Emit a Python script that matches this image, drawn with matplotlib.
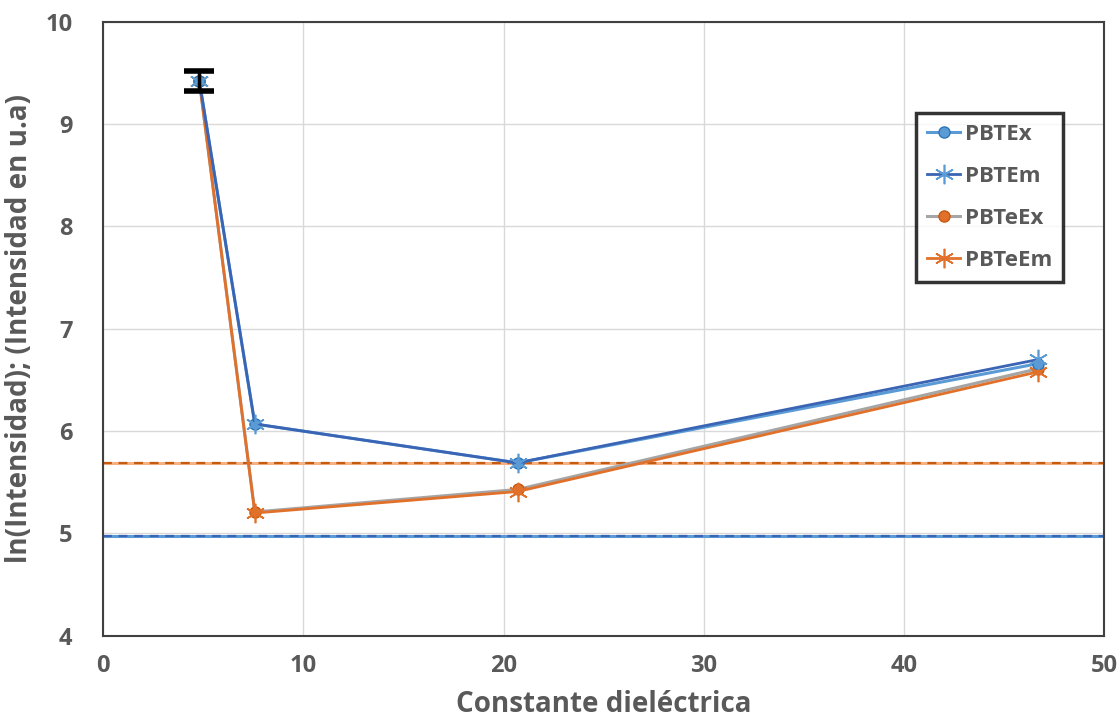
import matplotlib
matplotlib.use("Agg")
import matplotlib.pyplot as plt

plt.rcParams['font.family'] = ['Open Sans', 'DejaVu Sans']
plt.rcParams['font.weight'] = 'bold'

# dielectric constants of the solvents
constante = [4.81, 7.58, 20.7, 46.7]

pbt_ex = [9.42, 6.07, 5.69, 6.66]
pbt_em = [9.42, 6.07, 5.69, 6.70]
pbte_ex = [9.42, 5.21, 5.43, 6.61]
pbte_em = [9.42, 5.20, 5.41, 6.58]

err_x = 4.81
err_y = 9.42
err_val = 0.10

ref_pbt = 4.98
ref_pbte = 5.69

azul_claro = "#5b9bd5"
azul = "#3a64b4"
naranja = "#e0702a"
naranja_osc = "#c55a11"
gris = "#a5a5a5"
texto = "#595959"

fig = plt.figure(figsize=(11.2, 7.25), dpi=100)
ax = fig.add_axes([0.092, 0.123, 0.894, 0.847])

# reference levels: solid line with dashed line on top
ax.axhline(ref_pbt, color=azul_claro, lw=2.2, zorder=2)
ax.axhline(ref_pbt, color=azul, lw=1.6, ls=(0, (4, 3)), zorder=2)
ax.axhline(ref_pbte, color="#f4b183", lw=2.2, zorder=2)
ax.axhline(ref_pbte, color=naranja_osc, lw=1.6, ls=(0, (4, 3)), zorder=2)

ax.plot(constante, pbte_ex, color=gris, lw=2.2, marker='o', ms=8,
        mfc=naranja, mec=naranja_osc, label="PBTeEx", zorder=3)
ax.plot(constante, pbte_em, color=naranja, lw=2, marker=(6, 2, 0), ms=14,
        mec=naranja, mew=1.2, label="PBTeEm", zorder=4)
ax.plot(constante, pbt_ex, color=azul_claro, lw=2.2, marker='o', ms=8,
        mfc=azul_claro, mec="#2e75b6", label="PBTEx", zorder=3)
ax.plot(constante, pbt_em, color=azul, lw=2, marker=(6, 2, 0), ms=14,
        mec=azul_claro, mew=1.2, label="PBTEm", zorder=4)

ax.errorbar([err_x], [err_y], yerr=[err_val], fmt='none', ecolor='black',
            elinewidth=2.5, capsize=11, capthick=4, zorder=5)

ax.set_xlim(0, 50)
ax.set_ylim(4, 10)
ax.set_xticks(range(0, 51, 10))
ax.set_yticks(range(4, 11))
ax.grid(True, color="#d9d9d9", lw=1)
ax.set_axisbelow(True)
ax.tick_params(length=0, labelsize=17, labelcolor=texto)
ax.tick_params(axis='x', pad=13)
ax.tick_params(axis='y', pad=22)
for s in ax.spines.values():
    s.set_color("#404040")
    s.set_linewidth(1.5)

ax.set_xlabel("Constante dieléctrica", fontsize=20, color=texto,
              fontweight='bold', labelpad=9)
ax.set_ylabel("ln(Intensidad); (Intensidad en u.a)", fontsize=20,
              color=texto, fontweight='bold', labelpad=8)

h, l = ax.get_legend_handles_labels()
orden = [l.index(n) for n in ["PBTEx", "PBTEm", "PBTeEx", "PBTeEm"]]
leg = ax.legend([h[i] for i in orden], [l[i] for i in orden],
                loc='upper right', bbox_to_anchor=(0.97, 0.87),
                fontsize=16, frameon=True, fancybox=False,
                handlelength=1.5, handletextpad=0.2, labelspacing=0.95,
                borderpad=0.5)
leg.get_frame().set_edgecolor("black")
leg.get_frame().set_linewidth(2.5)
for t in leg.get_texts():
    t.set_color(texto)

fig.savefig("out.png", dpi=100)
